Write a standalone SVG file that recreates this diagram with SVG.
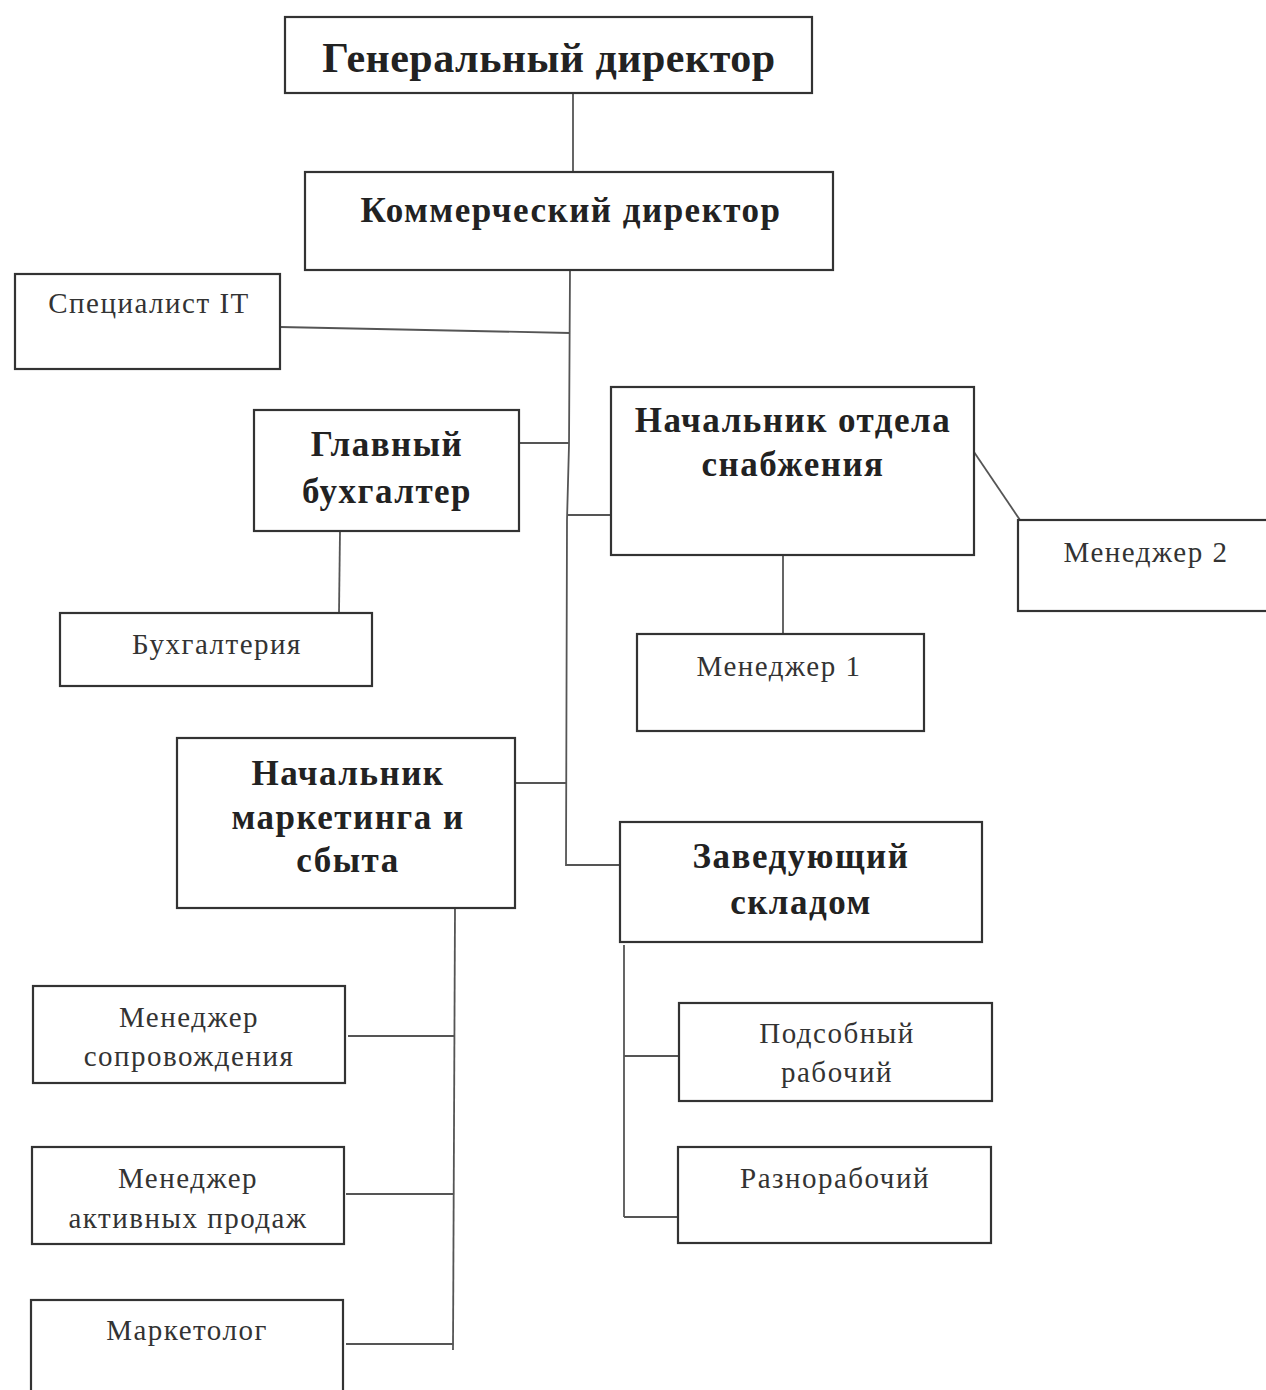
<svg xmlns="http://www.w3.org/2000/svg" width="1266" height="1390" viewBox="0 0 1266 1390">
<style>
.box{fill:#fff;stroke:#333;stroke-width:2.2}
.ln{fill:none;stroke:#555;stroke-width:1.8}
.b{font-family:"Liberation Serif",serif;font-weight:bold;fill:#222;text-anchor:middle;font-size:35px;letter-spacing:1.5px}
.r{font-family:"Liberation Serif",serif;fill:#333;text-anchor:middle;font-size:29px;letter-spacing:1.5px}
</style>
<rect width="1266" height="1390" fill="#fff"/>
<g id="connectors">
<line class="ln" x1="573" y1="93" x2="573" y2="172"/>
<polyline class="ln" points="570,270 569,445 567,520 566,866"/>
<line class="ln" x1="280" y1="327" x2="570" y2="333"/>
<line class="ln" x1="519" y1="443" x2="569" y2="443"/>
<line class="ln" x1="567" y1="515" x2="611" y2="515"/>
<line class="ln" x1="515" y1="783" x2="566" y2="783"/>
<line class="ln" x1="566" y1="865" x2="620" y2="865"/>
<line class="ln" x1="340" y1="531" x2="339" y2="613"/>
<line class="ln" x1="783" y1="555" x2="783" y2="634"/>
<line class="ln" x1="974" y1="452" x2="1020" y2="520"/>
<line class="ln" x1="455" y1="908" x2="453" y2="1350"/>
<line class="ln" x1="348" y1="1036" x2="455" y2="1036"/>
<line class="ln" x1="346" y1="1194" x2="454" y2="1194"/>
<line class="ln" x1="346" y1="1344" x2="453" y2="1344"/>
<line class="ln" x1="624" y1="945" x2="624" y2="1217"/>
<line class="ln" x1="624" y1="1056" x2="679" y2="1056"/>
<line class="ln" x1="624" y1="1217" x2="678" y2="1217"/>
</g>
<g id="gen-director">
<rect class="box" x="285" y="17" width="527" height="76"/>
<text class="b" x="549" y="72" style="font-size:42px;letter-spacing:0.5px">Генеральный директор</text>
</g>
<g id="comm-director">
<rect class="box" x="305" y="172" width="528" height="98"/>
<text class="b" x="571" y="222">Коммерческий директор</text>
</g>
<g id="it">
<rect class="box" x="15" y="274" width="265" height="95"/>
<text class="r" x="149" y="313">Специалист IT</text>
</g>
<g id="chief-accountant">
<rect class="box" x="254" y="410" width="265" height="121"/>
<text class="b" x="387" y="456">Главный</text>
<text class="b" x="387" y="503">бухгалтер</text>
</g>
<g id="supply-head">
<rect class="box" x="611" y="387" width="363" height="168"/>
<text class="b" x="793" y="432">Начальник отдела</text>
<text class="b" x="793" y="476">снабжения</text>
</g>
<g id="manager2">
<rect class="box" x="1018" y="520" width="250" height="91"/>
<text class="r" x="1146" y="562">Менеджер 2</text>
</g>
<g id="accounting">
<rect class="box" x="60" y="613" width="312" height="73"/>
<text class="r" x="217" y="654">Бухгалтерия</text>
</g>
<g id="manager1">
<rect class="box" x="637" y="634" width="287" height="97"/>
<text class="r" x="779" y="676">Менеджер 1</text>
</g>
<g id="marketing-head">
<rect class="box" x="177" y="738" width="338" height="170"/>
<text class="b" x="348" y="785">Начальник</text>
<text class="b" x="348" y="829">маркетинга и</text>
<text class="b" x="348" y="872">сбыта</text>
</g>
<g id="warehouse-head">
<rect class="box" x="620" y="822" width="362" height="120"/>
<text class="b" x="801" y="868">Заведующий</text>
<text class="b" x="801" y="914">складом</text>
</g>
<g id="support-manager">
<rect class="box" x="33" y="986" width="312" height="97"/>
<text class="r" x="189" y="1027">Менеджер</text>
<text class="r" x="189" y="1066">сопровождения</text>
</g>
<g id="sales-manager">
<rect class="box" x="32" y="1147" width="312" height="97"/>
<text class="r" x="188" y="1188">Менеджер</text>
<text class="r" x="188" y="1228">активных продаж</text>
</g>
<g id="marketer">
<rect class="box" x="31" y="1300" width="312" height="100"/>
<text class="r" x="187" y="1340">Маркетолог</text>
</g>
<g id="helper">
<rect class="box" x="679" y="1003" width="313" height="98"/>
<text class="r" x="837" y="1043">Подсобный</text>
<text class="r" x="837" y="1082">рабочий</text>
</g>
<g id="laborer">
<rect class="box" x="678" y="1147" width="313" height="96"/>
<text class="r" x="835" y="1188">Разнорабочий</text>
</g>
</svg>
